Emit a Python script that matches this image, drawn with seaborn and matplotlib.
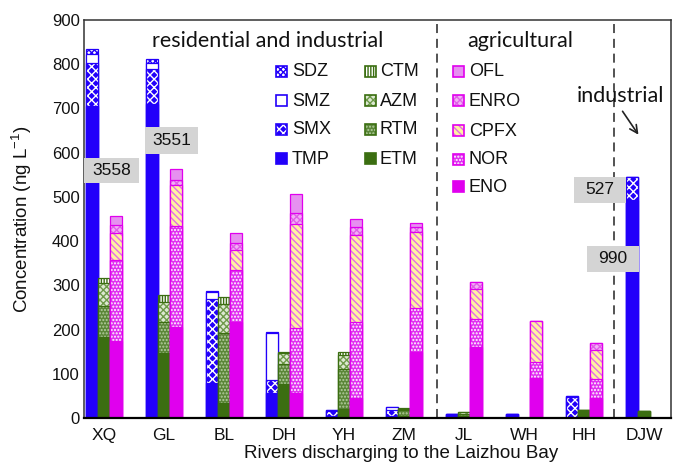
import numpy as np
import pandas as pd
import seaborn as sns
import matplotlib
matplotlib.use("Agg")
import matplotlib.pyplot as plt
from matplotlib.patches import Rectangle
from matplotlib.colors import to_rgba

# Rivers along the Laizhou Bay
rivers = ["XQ", "GL", "BL", "DH", "YH", "ZM", "JL", "WH", "HH", "DJW"]

# Sulfonamides + trimethoprim, ng/L (drawn height; off-scale values labelled separately)
tmp = [706, 709, 80, 57, 4, 5, 10, 8, 0, 493]
smx = [97, 81, 190, 29, 12, 14, 0, 0, 48, 53]
smz = [19, 13, 15, 106, 2, 5, 0, 0, 2, 0]
sdz = [12, 8, 3, 2, 0, 2, 0, 0, 0, 0]

# Macrolides, ng/L
etm = [184, 148, 35, 78, 20, 4, 4, 0, 18, 16]
rtm = [69, 68, 158, 43, 90, 14, 6, 0, 0, 0]
azm = [52, 47, 65, 25, 32, 3, 4, 0, 0, 0]
ctm = [11, 15, 15, 4, 7, 1, 0, 0, 0, 0]

# Quinolones, ng/L
eno = [173, 206, 218, 57, 45, 150, 161, 90, 45, 0]
nor = [184, 229, 117, 146, 173, 98, 62, 36, 43, 0]
cpfx = [62, 92, 46, 236, 196, 173, 68, 93, 66, 0]
enro = [17, 11, 15, 24, 19, 12, 17, 0, 15, 0]
ofl = [21, 25, 22, 43, 17, 9, 0, 0, 0, 0]

# Concentrations beyond the axis range (river, compound, value)
off_scale = [("XQ", "TMP", 3558), ("GL", "TMP", 3551), ("DJW", "SMX", 527), ("DJW", "TMP", 990)]

sns.set_theme(style="white")
plt.rcParams["font.family"] = ["Liberation Sans", "DejaVu Sans"]
plt.rcParams["mathtext.default"] = "regular"
plt.rcParams["hatch.linewidth"] = 1.0

BLUE = "#2200FA"
GREEN = "#3B6E11"
MAGENTA = "#E000EE"
classes = ["sulfonamides", "macrolides", "quinolones"]
class_color = {"sulfonamides": BLUE, "macrolides": GREEN, "quinolones": MAGENTA}

# layers bottom -> top: (name, values, facecolor, hatch, hatch colour)
stacks = {
    "sulfonamides": [
        ("TMP", tmp, BLUE, None, None),
        ("SMX", smx, BLUE, "xxxx", "white"),
        ("SMZ", smz, "white", None, None),
        ("SDZ", sdz, "white", "xxxxxx", BLUE),
    ],
    "macrolides": [
        ("ETM", etm, GREEN, None, None),
        ("RTM", rtm, "#5A8638", ".....", "#B5CFA0"),
        ("AZM", azm, "#DDE9D2", "xxxxx", "#6E9A4A"),
        ("CTM", ctm, "white", "||||||", GREEN),
    ],
    "quinolones": [
        ("ENO", eno, MAGENTA, None, None),
        ("NOR", nor, "#E030F0", ".....", "white"),
        ("CPFX", cpfx, "#FFF2A0", "\\\\\\\\\\", "#E46CE8"),
        ("ENRO", enro, "#F2B0F5", "xxxxx", "#E060E8"),
        ("OFL", ofl, "#E690F0", None, None),
    ],
}

W, H = 673, 465
L, R, T, B = 84, 671, 20, 418
fig = plt.figure(figsize=(W / 100, H / 100), dpi=100)
ax = fig.add_axes([L / W, (H - B) / H, (R - L) / W, (B - T) / H])


def style(patch, fc, hatch, hc, ec):
    patch.set_facecolor(fc)
    patch.set_edgecolor(ec)
    patch.set_linewidth(0.9)
    if hatch:
        patch.set_hatch(hatch)
        if hasattr(patch, "set_hatchcolor"):
            patch.set_hatchcolor(hc)
        else:
            patch._hatch_color = to_rgba(hc)


# stacked bars: cumulative totals drawn from the top layer down
for cls in classes:
    layers = stacks[cls]
    cum = np.cumsum([np.asarray(v, float) for _, v, *_ in layers], axis=0)
    for k in range(len(layers) - 1, -1, -1):
        name, _, fc, hatch, hc = layers[k]
        df = pd.DataFrame({"river": rivers, "cls": cls, "value": cum[k]})
        df = df[df["value"] > 0]
        if df.empty:
            continue
        n0 = len(ax.patches)
        sns.barplot(data=df, x="river", y="value", hue="cls", hue_order=classes,
                    order=rivers, palette=class_color, width=0.6, dodge=True,
                    legend=False, errorbar=None, ax=ax)
        for p in ax.patches[n0:]:
            style(p, fc, hatch, hc, class_color[cls])

ax.set_xlim(-20 / 60, 9 + 27 / 60)
ax.set_ylim(0, 900)
ax.set_yticks(range(0, 901, 100))
ax.tick_params(axis="y", direction="in", length=4, width=1, pad=3, labelsize=12, colors="#111")
ax.tick_params(axis="x", length=0, pad=7, labelsize=12.5, colors="#111")
for s in ax.spines.values():
    s.set_color("#333")
    s.set_linewidth(1.1)
ax.spines["bottom"].set_color("#000")
ax.spines["bottom"].set_linewidth(1.6)

ax.set_ylabel("Concentration (ng L$^{-1}$)", fontsize=13.5, color="#111")
ax.set_xlabel("Rivers discharging to the Laizhou Bay", fontsize=13.5, color="#111")
ax.yaxis.set_label_coords(-0.085, 0.5)
ax.xaxis.set_label_coords(0.54, -0.068)

# land-use group separators
for xv in (5.55, 8.5):
    ax.axvline(xv, color="#444", lw=1.3, ls=(0, (5, 3.2)), zorder=1)


def axfrac(x, y):
    return ((x - L) / (R - L), (B - y) / (B - T))


# grey value boxes for bars exceeding the axis
box_pos = {
    ("XQ", "TMP"): (-0.333, 531, 0.916, 57),
    ("GL", "TMP"): (0.683, 597, 0.884, 61),
    ("DJW", "SMX"): (7.833, 487, 0.867, 59),
    ("DJW", "TMP"): (8.05, 331, 0.867, 58),
}
for river, comp, val in off_scale:
    x0, y0, w, h = box_pos[(river, comp)]
    ax.add_patch(Rectangle((x0, y0), w, h, facecolor="#D4D4D4", edgecolor="none", zorder=5))
    ax.text(x0 + w / 2, y0 + h / 2, f"{val}", ha="center", va="center", fontsize=12.5,
            color="#111", zorder=6)

# group titles
title_font = ["Lato", "DejaVu Sans"]
ax.text(*axfrac(268, 41), "residential and industrial", transform=ax.transAxes,
        ha="center", va="center", fontsize=15.5, family=title_font, color="#111")
ax.text(*axfrac(520, 41), "agricultural", transform=ax.transAxes,
        ha="center", va="center", fontsize=15.5, family=title_font, color="#111")
ax.text(*axfrac(620, 96), "industrial", transform=ax.transAxes,
        ha="center", va="center", fontsize=15.5, family=title_font, color="#111")
ax.annotate("", xy=axfrac(640, 137), xytext=axfrac(621, 109),
            xycoords="axes fraction", textcoords="axes fraction",
            arrowprops=dict(arrowstyle="->", color="#222", lw=1.2, mutation_scale=14))

# compound legend
legend_cols = {
    "sulfonamides": (276, 292, [72, 101, 130, 159]),
    "macrolides": (365, 380, [72, 101, 130, 159]),
    "quinolones": (453, 469, [72, 101, 131, 160, 187]),
}
psz = 11
for cls in classes:
    xp, xt, rows = legend_cols[cls]
    for (name, _, fc, hatch, hc), yc in zip(reversed(stacks[cls]), rows):
        x0, y0 = axfrac(xp, yc + psz / 2)
        rect = Rectangle((x0, y0), psz / (R - L), psz / (B - T), transform=ax.transAxes,
                         zorder=6)
        style(rect, fc, hatch, hc, class_color[cls])
        rect.set_linewidth(1.2)
        ax.add_patch(rect)
        ax.text(*axfrac(xt, yc), name, transform=ax.transAxes, ha="left", va="center",
                fontsize=13, color="#111")

fig.savefig("out.png", dpi=100)
